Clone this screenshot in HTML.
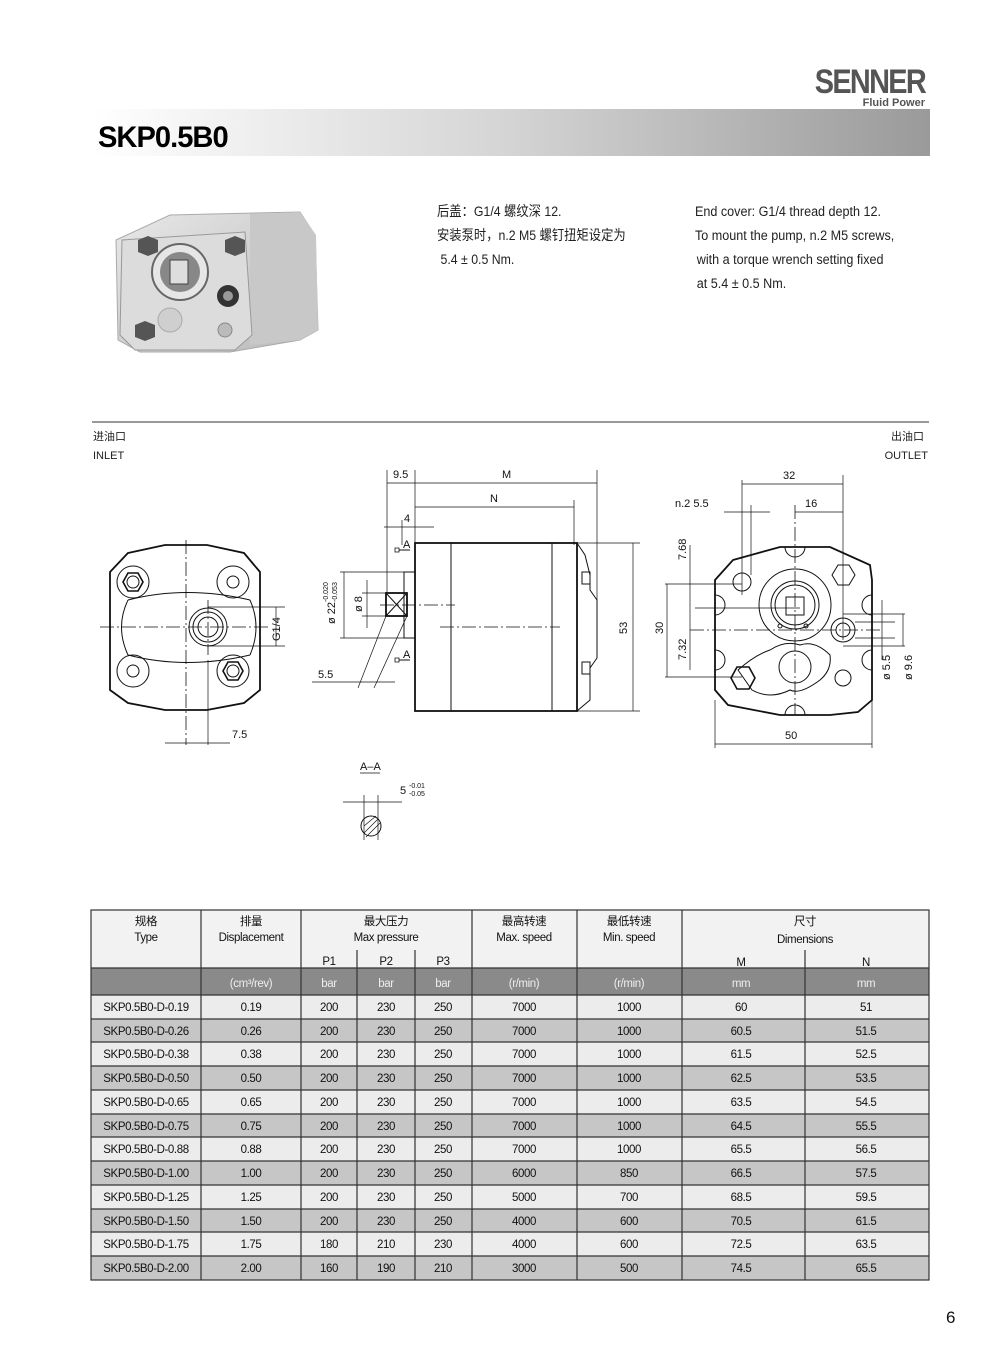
<!DOCTYPE html>
<html><head><meta charset="utf-8"><style>
body{margin:0;background:#fff}
svg{display:block}
text{font-family:"Liberation Sans","Noto Sans CJK SC",sans-serif}
</style></head><body>
<svg width="1000" height="1366" viewBox="0 0 1000 1366" xmlns="http://www.w3.org/2000/svg">
<defs>
<linearGradient id="bar" x1="0" x2="1"><stop offset="0" stop-color="#ffffff"/><stop offset="0.5" stop-color="#d4d4d4"/><stop offset="1" stop-color="#9a9a9a"/></linearGradient>
<linearGradient id="pump" x1="0" x2="1" y1="0" y2="1"><stop offset="0" stop-color="#e8e8e8"/><stop offset="1" stop-color="#b8b8b8"/></linearGradient>
</defs>
<text x="925" y="93" text-anchor="end" font-size="34" font-weight="bold" fill="#555" letter-spacing="-2" transform="translate(925 0) scale(0.85 1) translate(-925 0)">SENNER</text>
<text x="925" y="106" text-anchor="end" font-size="11" font-weight="bold" fill="#555">Fluid Power</text>
<rect x="92" y="109" width="838" height="47" fill="url(#bar)"/>
<text x="98" y="147" font-size="30" font-weight="bold" fill="#000" letter-spacing="-1" transform="translate(98 0) scale(0.97 1) translate(-98 0)">SKP0.5B0</text>

<g>
<path d="M170 215 L300 212 L315 235 L318 330 L300 340 L230 352 L140 352 L118 340 L116 240 Z" fill="url(#pump)" stroke="#aaa"/>
<path d="M250 214 L300 212 L316 235 L318 330 L300 340 L250 345 Z" fill="#c8c8c8"/>
<path d="M122 240 L245 232 L252 335 L235 350 L135 350 L120 335 Z" fill="#dcdcdc" stroke="#999"/>
<circle cx="180" cy="272" r="28" fill="#e6e6e6" stroke="#666" stroke-width="2"/>
<circle cx="180" cy="272" r="20" fill="#888"/>
<rect x="170" y="260" width="18" height="24" fill="#ddd" stroke="#444"/>
<path d="M138 240 l10 -4 l10 4 l0 12 l-10 4 l-10 -4 z" fill="#555"/>
<path d="M225 240 l10 -4 l10 4 l0 12 l-10 4 l-10 -4 z" fill="#555"/>
<path d="M135 325 l10 -4 l10 4 l0 12 l-10 4 l-10 -4 z" fill="#555"/>
<circle cx="228" cy="296" r="11" fill="#333"/><circle cx="228" cy="296" r="5" fill="#999"/>
<circle cx="170" cy="320" r="12" fill="#cfcfcf" stroke="#aaa"/>
<circle cx="225" cy="330" r="7" fill="#bbb" stroke="#888"/>
</g>

<g font-size="14" fill="#222">
<g transform="translate(437 0) scale(0.88 1) translate(-437 0)">
<text x="437" y="216">后盖：G1/4 螺纹深 12.</text>
<text x="437" y="240">安装泵时，n.2 M5 螺钉扭矩设定为</text>
<text x="441" y="264">5.4 ± 0.5 Nm.</text></g>
<g transform="translate(695 0) scale(0.9 1) translate(-695 0)">
<text x="695" y="216">End cover: G1/4 thread depth 12.</text>
<text x="695" y="240">To mount the pump, n.2 M5 screws,</text>
<text x="697" y="264">with a torque wrench setting fixed</text>
<text x="697" y="288">at 5.4 ± 0.5 Nm.</text></g>
</g>
<line x1="92" y1="422" x2="929" y2="422" stroke="#333"/>
<g font-size="11" fill="#222">
<text x="93" y="440">进油口</text><text x="93" y="459">INLET</text>
<text x="924" y="440" text-anchor="end">出油口</text><text x="928" y="459" text-anchor="end">OUTLET</text>
</g>

<g stroke="#111" fill="none" stroke-width="1">
<path d="M128 553 L165 545 L207 545 L244 553 L260 572 L260 690 L244 703 L207 710 L165 710 L128 703 L110 690 L110 572 Z" stroke-width="1.8"/>
<circle cx="133" cy="582" r="16"/><circle cx="233" cy="582" r="16"/><circle cx="133" cy="671" r="16"/><circle cx="233" cy="671" r="16"/>
<path d="M123 582 l5 -9 h10 l5 9 l-5 9 h-10 z" stroke-width="1.6"/><circle cx="133" cy="582" r="6"/>
<circle cx="233" cy="582" r="6"/><circle cx="133" cy="671" r="6"/>
<path d="M223 671 l5 -9 h10 l5 9 l-5 9 h-10 z" stroke-width="1.6"/><circle cx="233" cy="671" r="6"/>
<path d="M128 600 Q186 585 250 600 M128 655 Q186 670 250 655 M128 600 Q115 627 128 655 M250 600 Q262 627 250 655"/>
<circle cx="208" cy="627" r="19"/><circle cx="208" cy="627" r="15"/><circle cx="208" cy="627" r="10"/>
<g stroke-dasharray="14 3 2 3" stroke-width="0.8">
<line x1="186" y1="540" x2="186" y2="745"/><line x1="100" y1="627" x2="270" y2="627"/>
<line x1="208" y1="600" x2="208" y2="655"/>
</g>
<line x1="208" y1="607" x2="285" y2="607" stroke-width="0.7"/><line x1="208" y1="646" x2="285" y2="646" stroke-width="0.7"/>
<line x1="276" y1="607" x2="276" y2="646" stroke-width="0.7"/>
<line x1="208" y1="660" x2="208" y2="745" stroke-width="0.7"/>
<line x1="165" y1="743" x2="230" y2="743" stroke-width="0.7"/>

<rect x="415" y="543" width="162" height="168" stroke-width="1.8"/>
<line x1="451" y1="543" x2="451" y2="711"/><line x1="552" y1="543" x2="552" y2="711"/>
<path d="M577 543 L585 555 L590 575 L590 590 L597 600 L597 658 L590 668 L590 700 L577 711"/>
<rect x="582" y="572" width="8" height="12"/><rect x="582" y="662" width="8" height="12"/>
<rect x="404" y="572" width="11" height="66"/>
<rect x="386" y="593" width="21" height="23" stroke-width="1.8"/>
<line x1="386" y1="593" x2="407" y2="616"/><line x1="407" y1="593" x2="386" y2="616"/>
<g stroke-dasharray="14 3 2 3" stroke-width="0.8"><line x1="380" y1="605" x2="455" y2="605"/><line x1="440" y1="627" x2="560" y2="627"/></g>
<g stroke-width="0.7">
<line x1="387" y1="470" x2="387" y2="593"/><line x1="415" y1="470" x2="415" y2="543"/><line x1="597" y1="470" x2="597" y2="600"/><line x1="574" y1="500" x2="574" y2="545"/>
<line x1="387" y1="483" x2="597" y2="483"/><line x1="415" y1="507" x2="574" y2="507"/>
<line x1="384" y1="527" x2="434" y2="527"/><line x1="402" y1="520" x2="402" y2="545"/>
<line x1="577" y1="543" x2="640" y2="543"/><line x1="577" y1="711" x2="640" y2="711"/><line x1="633" y1="543" x2="633" y2="711"/>
<line x1="340" y1="572" x2="404" y2="572"/><line x1="340" y1="638" x2="404" y2="638"/><line x1="344" y1="572" x2="344" y2="638"/>
<line x1="362" y1="593" x2="386" y2="593"/><line x1="362" y1="616" x2="386" y2="616"/><line x1="367" y1="580" x2="367" y2="628"/>
<line x1="312" y1="682" x2="395" y2="682"/><line x1="386" y1="616" x2="358" y2="688"/><line x1="407" y1="616" x2="374" y2="688"/>
<line x1="715" y1="700" x2="715" y2="748"/>
</g>
<path d="M395 548 h4 v4 h-4z M395 658 h4 v4 h-4z" stroke-width="0.8"/>
<line x1="399" y1="550" x2="410" y2="550"/><line x1="399" y1="660" x2="410" y2="660"/>

<path d="M733 560 L780 547 L830 547 L870 565 L872 580 L872 700 L858 712 L830 715 L780 715 L728 705 L715 690 L715 580 Z" stroke-width="1.8"/>
<circle cx="742" cy="582" r="9"/>
<path d="M832 575 l6 -10 h11 l6 10 l-6 10 h-11 z"/>
<circle cx="843" cy="630" r="12"/><circle cx="843" cy="630" r="7"/>
<circle cx="795" cy="605" r="36"/><circle cx="795" cy="605" r="24"/><circle cx="795" cy="605" r="20"/><rect x="786" y="597" width="18" height="18"/>
<circle cx="780" cy="626" r="2"/><circle cx="806" cy="626" r="2"/>
<path d="M738 670 Q755 655 770 650 Q785 640 800 645 Q815 640 830 655 Q832 670 820 680 Q800 695 790 690 Q770 700 752 690 Z"/>
<circle cx="795" cy="667" r="16"/>
<path d="M731 678 l6 -11 h12 l6 11 l-6 11 h-12 z" stroke-width="1.6"/>
<circle cx="843" cy="678" r="8"/>
<path d="M785 547 a10 10 0 0 0 20 0 M785 715 a10 10 0 0 1 20 0 M715 595 a10 10 0 0 1 0 20 M715 650 a10 10 0 0 1 0 20 M872 595 a10 10 0 0 0 0 20 M872 650 a10 10 0 0 0 0 20"/>
<g stroke-dasharray="14 3 2 3" stroke-width="0.8">
<line x1="795" y1="505" x2="795" y2="715"/><line x1="690" y1="630" x2="880" y2="630"/>
</g>
<g stroke-width="0.7">
<line x1="742" y1="480" x2="742" y2="595"/><line x1="843" y1="475" x2="843" y2="640"/><line x1="742" y1="484" x2="843" y2="484"/>
<line x1="795" y1="512" x2="843" y2="512"/><line x1="724" y1="512" x2="770" y2="512"/><line x1="751" y1="505" x2="751" y2="575"/>
<line x1="665" y1="584" x2="742" y2="584"/><line x1="665" y1="677" x2="742" y2="677"/><line x1="667" y1="584" x2="667" y2="677"/>
<line x1="690" y1="545" x2="690" y2="670"/><line x1="695" y1="608" x2="800" y2="608"/>
<line x1="872" y1="700" x2="872" y2="748"/><line x1="715" y1="744" x2="872" y2="744"/>
<line x1="843" y1="614" x2="905" y2="614"/><line x1="843" y1="646" x2="905" y2="646"/><line x1="855" y1="622" x2="895" y2="622"/><line x1="855" y1="638" x2="895" y2="638"/>
<line x1="903" y1="614" x2="903" y2="646"/><line x1="882" y1="600" x2="882" y2="660"/>
</g>

<line x1="360" y1="773" x2="380" y2="773" stroke-width="0.8"/>
<line x1="343" y1="802" x2="402" y2="802" stroke-width="0.7"/>
<line x1="364" y1="795" x2="364" y2="840" stroke-width="0.7"/><line x1="378" y1="795" x2="378" y2="840" stroke-width="0.7"/>
<circle cx="371" cy="826" r="10"/>
<path d="M364 833 L378 819 M364 826 L376 816 M366 837 L380 823" stroke-width="0.7"/>
</g>

<g font-size="11" fill="#111">
<text x="393" y="478">9.5</text><text x="502" y="478">M</text><text x="490" y="502">N</text>
<text x="404" y="522">4</text><text x="318" y="678">5.5</text><text x="232" y="738">7.5</text>
<text x="783" y="479">32</text><text x="805" y="507">16</text><text x="675" y="507">n.2 5.5</text>
<text x="785" y="739">50</text>
<text x="403" y="548">A</text><text x="403" y="658">A</text>
<text x="360" y="770">A–A</text><text x="400" y="794">5</text><text x="409" y="788" font-size="7">-0.01</text><text x="409" y="796" font-size="7">-0.05</text>
<text transform="translate(280 641) rotate(-90)">G1/4</text>
<text transform="translate(627 634) rotate(-90)">53</text>
<text transform="translate(663 634) rotate(-90)">30</text>
<text transform="translate(686 560) rotate(-90)">7.68</text>
<text transform="translate(686 660) rotate(-90)">7.32</text>
<text transform="translate(362 612) rotate(-90)">ø 8</text>
<text transform="translate(335 624) rotate(-90)">ø 22</text>
<text transform="translate(328 602) rotate(-90)" font-size="7">-0.020</text>
<text transform="translate(337 602) rotate(-90)" font-size="7">-0.053</text>
<text transform="translate(890 680) rotate(-90)">ø 5.5</text>
<text transform="translate(912 680) rotate(-90)">ø 9.6</text>
</g>

<rect x="91" y="910" width="838" height="58" fill="#f2f2f2"/>
<rect x="91" y="968" width="838" height="27" fill="#8a8a8a"/>
<g>
<rect x="91" y="995" width="838" height="24" fill="#ececec"/>
<rect x="91" y="1019" width="838" height="23" fill="#c6c6c6"/>
<rect x="91" y="1042" width="838" height="24" fill="#ececec"/>
<rect x="91" y="1066" width="838" height="24" fill="#c6c6c6"/>
<rect x="91" y="1090" width="838" height="24" fill="#ececec"/>
<rect x="91" y="1114" width="838" height="23" fill="#c6c6c6"/>
<rect x="91" y="1137" width="838" height="24" fill="#ececec"/>
<rect x="91" y="1161" width="838" height="24" fill="#c6c6c6"/>
<rect x="91" y="1185" width="838" height="24" fill="#ececec"/>
<rect x="91" y="1209" width="838" height="23" fill="#c6c6c6"/>
<rect x="91" y="1232" width="838" height="24" fill="#ececec"/>
<rect x="91" y="1256" width="838" height="24" fill="#c6c6c6"/>
</g>
<g stroke="#333" stroke-width="1.2" fill="none">
<rect x="91" y="910" width="838" height="370"/>
<line x1="201" y1="910" x2="201" y2="1280"/><line x1="301" y1="910" x2="301" y2="1280"/>
<line x1="357" y1="950" x2="357" y2="1280"/><line x1="415" y1="950" x2="415" y2="1280"/>
<line x1="472" y1="910" x2="472" y2="1280"/><line x1="577" y1="910" x2="577" y2="1280"/>
<line x1="682" y1="910" x2="682" y2="1280"/><line x1="805" y1="950" x2="805" y2="1280"/>
<line x1="91" y1="968" x2="929" y2="968"/><line x1="91" y1="995" x2="929" y2="995"/>
<line x1="91" y1="1019" x2="929" y2="1019"/><line x1="91" y1="1042" x2="929" y2="1042"/><line x1="91" y1="1066" x2="929" y2="1066"/>
<line x1="91" y1="1090" x2="929" y2="1090"/><line x1="91" y1="1114" x2="929" y2="1114"/><line x1="91" y1="1137" x2="929" y2="1137"/>
<line x1="91" y1="1161" x2="929" y2="1161"/><line x1="91" y1="1185" x2="929" y2="1185"/><line x1="91" y1="1209" x2="929" y2="1209"/>
<line x1="91" y1="1232" x2="929" y2="1232"/><line x1="91" y1="1256" x2="929" y2="1256"/>
</g>
<g font-size="11.5" fill="#111" text-anchor="middle" letter-spacing="-0.4">
<text x="146" y="925">规格</text><text x="146" y="941">Type</text>
<text x="251" y="925">排量</text><text x="251" y="941">Displacement</text>
<text x="386" y="925">最大压力</text><text x="386" y="941">Max pressure</text>
<text x="524" y="925">最高转速</text><text x="524" y="941">Max. speed</text>
<text x="629" y="925">最低转速</text><text x="629" y="941">Min. speed</text>
<text x="805" y="925">尺寸</text><text x="805" y="943">Dimensions</text>
<text x="329" y="965">P1</text><text x="386" y="965">P2</text><text x="443" y="965">P3</text>
<text x="741" y="966">M</text><text x="866" y="966">N</text>
</g>
<g font-size="11.5" fill="#eee" text-anchor="middle" letter-spacing="-0.4">
<text x="251" y="987">(cm³/rev)</text><text x="329" y="987">bar</text><text x="386" y="987">bar</text><text x="443" y="987">bar</text>
<text x="524" y="987">(r/min)</text><text x="629" y="987">(r/min)</text><text x="741" y="987">mm</text><text x="866" y="987">mm</text>
</g>
<g font-size="11.5" fill="#111" text-anchor="middle" letter-spacing="-0.4">
<g><text x="146" y="1011">SKP0.5B0-D-0.19</text><text x="251" y="1011">0.19</text><text x="329" y="1011">200</text><text x="386" y="1011">230</text><text x="443" y="1011">250</text><text x="524" y="1011">7000</text><text x="629" y="1011">1000</text><text x="741" y="1011">60</text><text x="866" y="1011">51</text></g>
<g><text x="146" y="1035">SKP0.5B0-D-0.26</text><text x="251" y="1035">0.26</text><text x="329" y="1035">200</text><text x="386" y="1035">230</text><text x="443" y="1035">250</text><text x="524" y="1035">7000</text><text x="629" y="1035">1000</text><text x="741" y="1035">60.5</text><text x="866" y="1035">51.5</text></g>
<g><text x="146" y="1058">SKP0.5B0-D-0.38</text><text x="251" y="1058">0.38</text><text x="329" y="1058">200</text><text x="386" y="1058">230</text><text x="443" y="1058">250</text><text x="524" y="1058">7000</text><text x="629" y="1058">1000</text><text x="741" y="1058">61.5</text><text x="866" y="1058">52.5</text></g>
<g><text x="146" y="1082">SKP0.5B0-D-0.50</text><text x="251" y="1082">0.50</text><text x="329" y="1082">200</text><text x="386" y="1082">230</text><text x="443" y="1082">250</text><text x="524" y="1082">7000</text><text x="629" y="1082">1000</text><text x="741" y="1082">62.5</text><text x="866" y="1082">53.5</text></g>
<g><text x="146" y="1106">SKP0.5B0-D-0.65</text><text x="251" y="1106">0.65</text><text x="329" y="1106">200</text><text x="386" y="1106">230</text><text x="443" y="1106">250</text><text x="524" y="1106">7000</text><text x="629" y="1106">1000</text><text x="741" y="1106">63.5</text><text x="866" y="1106">54.5</text></g>
<g><text x="146" y="1130">SKP0.5B0-D-0.75</text><text x="251" y="1130">0.75</text><text x="329" y="1130">200</text><text x="386" y="1130">230</text><text x="443" y="1130">250</text><text x="524" y="1130">7000</text><text x="629" y="1130">1000</text><text x="741" y="1130">64.5</text><text x="866" y="1130">55.5</text></g>
<g><text x="146" y="1153">SKP0.5B0-D-0.88</text><text x="251" y="1153">0.88</text><text x="329" y="1153">200</text><text x="386" y="1153">230</text><text x="443" y="1153">250</text><text x="524" y="1153">7000</text><text x="629" y="1153">1000</text><text x="741" y="1153">65.5</text><text x="866" y="1153">56.5</text></g>
<g><text x="146" y="1177">SKP0.5B0-D-1.00</text><text x="251" y="1177">1.00</text><text x="329" y="1177">200</text><text x="386" y="1177">230</text><text x="443" y="1177">250</text><text x="524" y="1177">6000</text><text x="629" y="1177">850</text><text x="741" y="1177">66.5</text><text x="866" y="1177">57.5</text></g>
<g><text x="146" y="1201">SKP0.5B0-D-1.25</text><text x="251" y="1201">1.25</text><text x="329" y="1201">200</text><text x="386" y="1201">230</text><text x="443" y="1201">250</text><text x="524" y="1201">5000</text><text x="629" y="1201">700</text><text x="741" y="1201">68.5</text><text x="866" y="1201">59.5</text></g>
<g><text x="146" y="1225">SKP0.5B0-D-1.50</text><text x="251" y="1225">1.50</text><text x="329" y="1225">200</text><text x="386" y="1225">230</text><text x="443" y="1225">250</text><text x="524" y="1225">4000</text><text x="629" y="1225">600</text><text x="741" y="1225">70.5</text><text x="866" y="1225">61.5</text></g>
<g><text x="146" y="1248">SKP0.5B0-D-1.75</text><text x="251" y="1248">1.75</text><text x="329" y="1248">180</text><text x="386" y="1248">210</text><text x="443" y="1248">230</text><text x="524" y="1248">4000</text><text x="629" y="1248">600</text><text x="741" y="1248">72.5</text><text x="866" y="1248">63.5</text></g>
<g><text x="146" y="1272">SKP0.5B0-D-2.00</text><text x="251" y="1272">2.00</text><text x="329" y="1272">160</text><text x="386" y="1272">190</text><text x="443" y="1272">210</text><text x="524" y="1272">3000</text><text x="629" y="1272">500</text><text x="741" y="1272">74.5</text><text x="866" y="1272">65.5</text></g>
</g>
<text x="946" y="1323" font-size="17" fill="#111">6</text>
</svg>
</body></html>
